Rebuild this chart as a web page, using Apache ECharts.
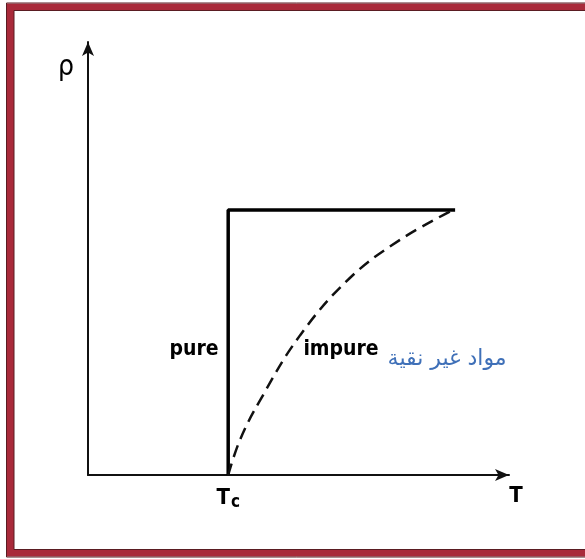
<!DOCTYPE html>
<html lang="en">
  <head>
    <meta charset="UTF-8" />
    <title>rho vs T</title>
    <script src="https://cdn.jsdelivr.net/npm/echarts@6/dist/echarts.min.js"></script>
    <style>
      html, body { margin: 0; padding: 0; background: #fff; }
      #box { width: 585px; height: 559px; }
    </style>
  </head>
  <body>
    <div id="box"></div>
    <script>
      // pure metal: drops straight to zero at Tc
      var pureT = [3.33, 3.33, 8.72];
      var pureRho = [0, 6.12, 6.12];
      // impure metal: smooth curve (dashed)
      var impureT = [3.33, 3.61, 4.09, 5.04, 6.22, 7.41, 8.67];
      var impureRho = [0, 0.81, 1.73, 3.23, 4.55, 5.43, 6.12];
      // text labels and where they sit (in data units)
      var labelText = ["pure", "impure", "مواد غير نقية", "Tc", "T", "ρ"];
      var labelT = [2.52, 6.01, 8.53, 3.33, 10, 0];
      var labelRho = [2.89, 2.89, 2.73, 0, 0, 9.4];

      function pairs(xs, ys) {
        return xs.map(function (x, i) { return [x, ys[i]]; });
      }

      var font = "DejaVu Sans Condensed, DejaVu Sans, sans-serif";
      var txt = { color: "#000", opacity: 1, fontFamily: font, fontSize: 21, fontWeight: "bold" };
      var labelStyle = [
        { position: "inside" },
        { position: "inside" },
        { position: "inside", color: "#3f70b8", fontSize: 22, fontWeight: "normal", fontFamily: "DejaVu Sans, sans-serif", offset: [0, 2] },
        {
          position: "bottom", distance: 10,
          formatter: "{a|T}{b|c}",
          rich: {
            a: { fontSize: 22, color: "#000", fontFamily: font, fontWeight: "bold" },
            b: { fontSize: 17, color: "#000", fontFamily: font, fontWeight: "bold", padding: [9, 0, 0, 1] },
          },
        },
        { position: "bottom", distance: 10, offset: [7, 0], fontSize: 22 },
        { position: "left", distance: 14, fontSize: 28, fontWeight: "normal" },
      ];

      var labelData = labelText.map(function (t, i) {
        var l = Object.assign({ show: true, formatter: t }, txt, labelStyle[i]);
        return { value: [labelT[i], labelRho[i]], label: l };
      });

      var myChart = echarts.init(document.getElementById("box"));
      var option = {
        backgroundColor: "#fff",
        animation: false,
        grid: { left: 88, right: 76, top: 42, bottom: 84 },
        xAxis: {
          type: "value", min: 0, max: 10,
          axisLine: { lineStyle: { color: "#111", width: 2 }, symbol: ["none", "arrow"], symbolSize: [9, 14] },
          axisTick: { show: false }, axisLabel: { show: false }, splitLine: { show: false },
        },
        yAxis: {
          type: "value", min: 0, max: 10,
          axisLine: { lineStyle: { color: "#111", width: 2 }, symbol: ["none", "arrow"], symbolSize: [9, 14] },
          axisTick: { show: false }, axisLabel: { show: false }, splitLine: { show: false },
        },
        graphic: [
          {
            type: "rect", z: 100, silent: true,
            shape: { x: 10.5, y: 7, width: 620, height: 546 },
            style: { fill: "none", stroke: "#a92a3a", lineWidth: 7 },
          },
          {
            type: "rect", z: 101, silent: true,
            shape: { x: 6.5, y: 3, width: 628, height: 554 },
            style: { fill: "none", stroke: "#5a1c22", lineWidth: 1 },
          },
          {
            type: "rect", z: 101, silent: true,
            shape: { x: 14, y: 10.5, width: 613, height: 539 },
            style: { fill: "none", stroke: "#5a1c22", lineWidth: 1 },
          },
        ],
        series: [
          {
            name: "pure", type: "line", data: pairs(pureT, pureRho),
            symbol: "none", lineStyle: { color: "#000", width: 3.5 },
          },
          {
            name: "impure", type: "line", data: pairs(impureT, impureRho), smooth: 0.4,
            symbol: "none", lineStyle: { color: "#111", width: 2.5, type: [12, 7] },
          },
          {
            name: "labels", type: "scatter", data: labelData, symbolSize: 0, clip: false, z: 5,
            itemStyle: { opacity: 1 },
          },
        ],
      };
      myChart.setOption(option);
    </script>
  </body>
</html>
